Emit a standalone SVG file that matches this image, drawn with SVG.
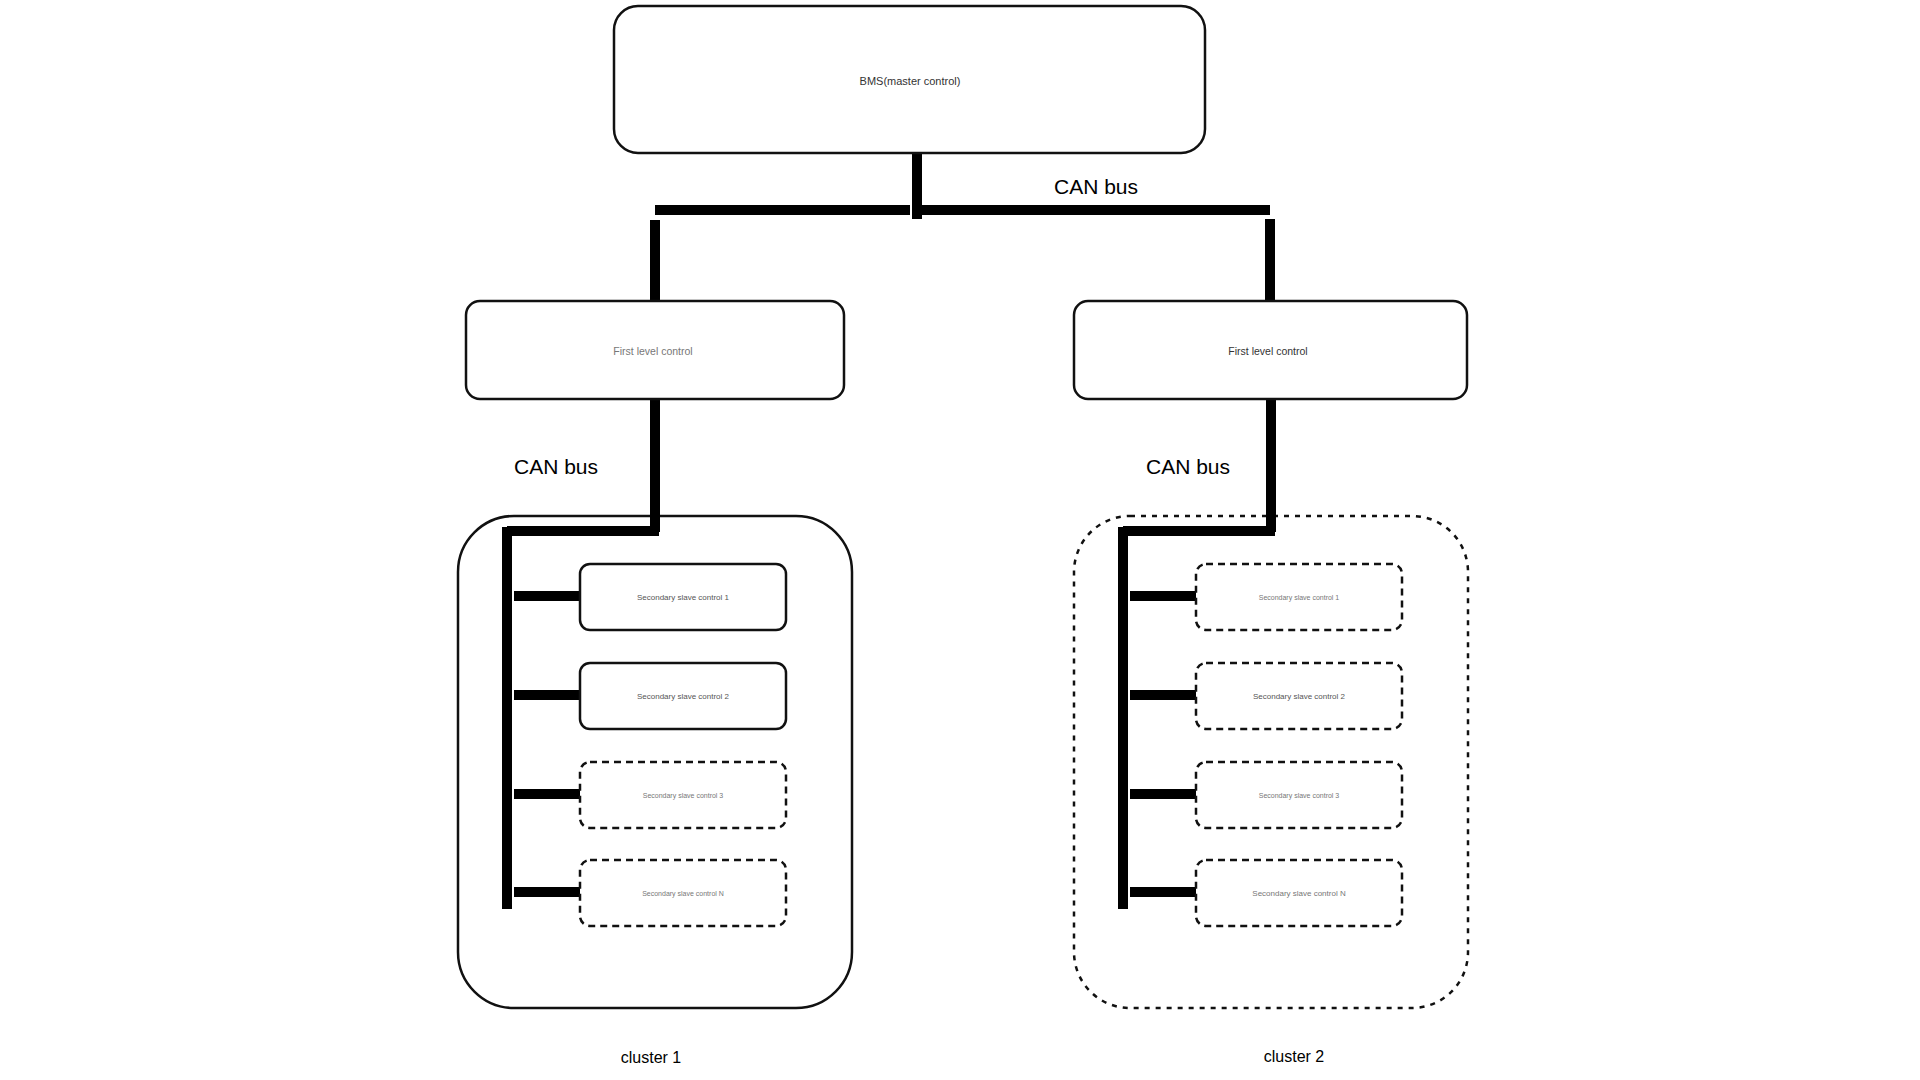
<svg xmlns="http://www.w3.org/2000/svg" width="1920" height="1080" viewBox="0 0 1920 1080">
<style>
.box{fill:#fff;stroke:#111;stroke-width:2.5}
.dbox{fill:#fff;stroke:#111;stroke-width:2.5;stroke-dasharray:7 5}
.cl{fill:none;stroke:#111;stroke-width:2.5}
.cld{fill:none;stroke:#111;stroke-width:2.5;stroke-dasharray:5 6}
.bus{fill:none;stroke:#000;stroke-width:10}
.small{font-family:"Liberation Sans",Arial,sans-serif;font-size:8px;fill:#555;text-anchor:middle}
.mid{font-family:"Liberation Sans",Arial,sans-serif;font-size:10.5px;fill:#555;text-anchor:middle}
.lbl{font-family:"Liberation Sans",Arial,sans-serif;font-size:21px;fill:#000;text-anchor:middle}
.cap{font-family:"Liberation Sans",Arial,sans-serif;font-size:16px;fill:#000;text-anchor:middle}
</style>
<rect width="1920" height="1080" fill="#fff"/>
<g id="cluster1">
<rect class="cl" x="458" y="516" width="394" height="492" rx="56"/>
<text class="cap" x="651" y="1063">cluster 1</text>
</g>
<g id="cluster2">
<rect class="cld" x="1074" y="516" width="394" height="492" rx="56"/>
<text class="cap" x="1294" y="1062">cluster 2</text>
</g>
<g id="connectors">
<line class="bus" x1="917" y1="153" x2="917" y2="219"/>
<line class="bus" x1="655" y1="210" x2="910" y2="210"/>
<line class="bus" x1="920" y1="210" x2="1270" y2="210"/>
<line class="bus" x1="655" y1="220" x2="655" y2="301"/>
<line class="bus" x1="1270" y1="219" x2="1270" y2="301"/>
<line class="bus" x1="655" y1="399" x2="655" y2="532"/>
<line class="bus" x1="507" y1="531" x2="659" y2="531"/>
<line class="bus" x1="507" y1="527" x2="507" y2="909"/>
<line class="bus" x1="514" y1="596" x2="580" y2="596"/>
<line class="bus" x1="514" y1="695" x2="580" y2="695"/>
<line class="bus" x1="514" y1="794" x2="580" y2="794"/>
<line class="bus" x1="514" y1="892" x2="580" y2="892"/>
<line class="bus" x1="1271" y1="399" x2="1271" y2="532"/>
<line class="bus" x1="1123" y1="531" x2="1275" y2="531"/>
<line class="bus" x1="1123" y1="527" x2="1123" y2="909"/>
<line class="bus" x1="1130" y1="596" x2="1196" y2="596"/>
<line class="bus" x1="1130" y1="695" x2="1196" y2="695"/>
<line class="bus" x1="1130" y1="794" x2="1196" y2="794"/>
<line class="bus" x1="1130" y1="892" x2="1196" y2="892"/>
</g>
<g id="bms">
<rect class="box" x="614" y="6" width="591" height="147" rx="24"/>
<text class="mid" x="910" y="85" style="font-size:11px;fill:#333">BMS(master control)</text>
</g>
<text class="lbl" x="1096" y="194">CAN bus</text>
<text class="lbl" x="556" y="474">CAN bus</text>
<text class="lbl" x="1188" y="474">CAN bus</text>
<g id="first1">
<rect class="box" x="466" y="301" width="378" height="98" rx="14"/>
<text class="mid" x="653" y="355" style="fill:#777">First level control</text>
</g>
<g id="first2">
<rect class="box" x="1074" y="301" width="393" height="98" rx="14"/>
<text class="mid" x="1268" y="355" style="fill:#333">First level control</text>
</g>
<g id="c1s1">
<rect class="box" x="580" y="564" width="206" height="66" rx="10"/>
<text class="small" x="683" y="600">Secondary slave control 1</text>
</g>
<g id="c1s2">
<rect class="box" x="580" y="663" width="206" height="66" rx="10"/>
<text class="small" x="683" y="699">Secondary slave control 2</text>
</g>
<g id="c1s3">
<rect class="dbox" x="580" y="762" width="206" height="66" rx="10"/>
<text class="small" x="683" y="798" style="font-size:7px;fill:#777">Secondary slave control 3</text>
</g>
<g id="c1sN">
<rect class="dbox" x="580" y="860" width="206" height="66" rx="10"/>
<text class="small" x="683" y="896" style="font-size:7px;fill:#777">Secondary slave control N</text>
</g>
<g id="c2s1">
<rect class="dbox" x="1196" y="564" width="206" height="66" rx="10"/>
<text class="small" x="1299" y="600" style="font-size:7px;fill:#777">Secondary slave control 1</text>
</g>
<g id="c2s2">
<rect class="dbox" x="1196" y="663" width="206" height="66" rx="10"/>
<text class="small" x="1299" y="699">Secondary slave control 2</text>
</g>
<g id="c2s3">
<rect class="dbox" x="1196" y="762" width="206" height="66" rx="10"/>
<text class="small" x="1299" y="798" style="font-size:7px;fill:#777">Secondary slave control 3</text>
</g>
<g id="c2sN">
<rect class="dbox" x="1196" y="860" width="206" height="66" rx="10"/>
<text class="small" x="1299" y="896" style="fill:#777">Secondary slave control N</text>
</g>
</svg>
